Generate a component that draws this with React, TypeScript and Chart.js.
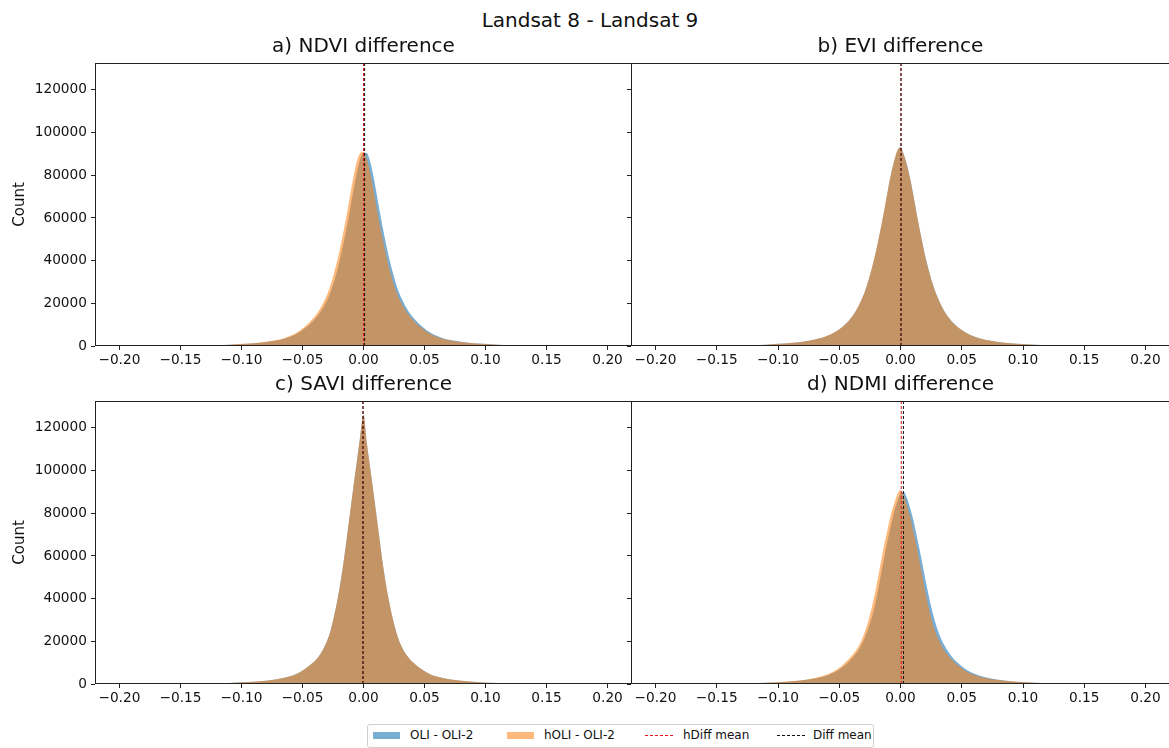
import React, { useEffect, useRef } from "react";
import { Chart, registerables } from "chart.js";

Chart.register(...registerables);

// ---------- data ----------
const BIN_X = [
  -0.22, -0.17, -0.15, -0.13, -0.11, -0.095, -0.085, -0.075, -0.065, -0.055, -0.048, -0.042, -0.037, -0.032, -0.027,
  -0.021, -0.016, -0.013, -0.0105, -0.008, -0.0053, -0.0027, 0, 0.0027, 0.0053, 0.008, 0.0105, 0.013, 0.016, 0.021,
  0.027, 0.032, 0.037, 0.042, 0.048, 0.055, 0.065, 0.075, 0.085, 0.095, 0.11, 0.13, 0.15, 0.17, 0.22,
];

const NDVI_OLI = [
  0, 28, 95, 270, 620, 1080, 1550, 2280, 3450, 5600, 8300, 11300, 14600, 19100, 25200,
  36500, 49300, 57700, 65600, 73800, 81600, 87600, 90600, 90400, 86800, 80000, 72200, 63900, 54800, 41200,
  28500, 21300, 16200, 12500, 9100, 6200, 3650, 2420, 1650, 1120, 640, 290, 100, 32, 0,
];
const NDVI_HOLI = [
  0, 32, 100, 290, 640, 1120, 1650, 2420, 3650, 6200, 9100, 12500, 16200, 21300, 28500,
  41200, 54800, 63900, 72200, 80000, 86800, 90400, 91000, 87600, 81600, 73800, 65600, 57700, 49300, 36500,
  25200, 19100, 14600, 11300, 8300, 5600, 3450, 2280, 1550, 1080, 620, 270, 95, 28, 0,
];

const EVI_OLI = [
  0, 30, 90, 270, 640, 1120, 1640, 2440, 3720, 6000, 8700, 12000, 15900, 21400, 29100,
  41800, 55300, 64300, 72300, 79800, 86300, 91200, 93300, 89800, 84800, 78200, 70700, 62700, 53700, 40200,
  27900, 20600, 15200, 11500, 8300, 5750, 3520, 2340, 1560, 1070, 600, 260, 90, 30, 0,
];
const EVI_HOLI = [
  0, 30, 90, 270, 640, 1120, 1640, 2440, 3720, 6050, 8700, 12000, 15900, 21500, 29200,
  42000, 55500, 64500, 72500, 80000, 86500, 91500, 93000, 89500, 84500, 78000, 70500, 62500, 53500, 40000,
  27800, 20500, 15100, 11400, 8300, 5750, 3520, 2340, 1560, 1070, 600, 260, 90, 30, 0,
];

const SAVI_OLI = [
  0, 20, 75, 220, 500, 880, 1280, 1880, 2880, 4650, 7000, 9700, 12700, 17500, 25000,
  40500, 58500, 71500, 82500, 93500, 105000, 116000, 126200, 113000, 102000, 90500, 79500, 68500, 55500, 38500,
  24000, 16600, 12300, 9400, 6800, 4500, 2820, 1830, 1230, 850, 480, 210, 75, 20, 0,
];
const SAVI_HOLI = [
  0, 20, 75, 220, 500, 880, 1280, 1880, 2880, 4650, 7000, 9700, 12700, 17500, 25000,
  40500, 58500, 71500, 82500, 93500, 105000, 116000, 126000, 113000, 102000, 90500, 79500, 68500, 55500, 38500,
  24000, 16600, 12300, 9400, 6800, 4500, 2820, 1830, 1230, 850, 480, 210, 75, 20, 0,
];

const NDMI_OLI = [
  0, 22, 80, 235, 560, 980, 1420, 2100, 3200, 5200, 7600, 10600, 13800, 18200, 24800,
  36500, 51100, 60100, 67300, 73800, 80500, 85400, 89300, 90000, 87100, 82100, 76700, 70100, 61900, 47000,
  31700, 22700, 17000, 12800, 9300, 6300, 3820, 2440, 1630, 1080, 640, 280, 95, 30, 0,
];
const NDMI_HOLI = [
  0, 25, 85, 250, 600, 1050, 1520, 2260, 3470, 5700, 8400, 11800, 15200, 20300, 28000,
  42000, 57000, 66000, 72500, 78900, 84300, 88700, 90800, 88200, 83600, 78000, 71500, 65000, 56000, 41000,
  27000, 19700, 14800, 11400, 8200, 5500, 3380, 2210, 1480, 1020, 580, 240, 85, 25, 0,
];

const PANEL_TITLES = ["a) NDVI difference", "b) EVI difference", "c) SAVI difference", "d) NDMI difference"];
const OLI_SERIES = [NDVI_OLI, EVI_OLI, SAVI_OLI, NDMI_OLI];
const HOLI_SERIES = [NDVI_HOLI, EVI_HOLI, SAVI_HOLI, NDMI_HOLI];
const HDIFF_MEAN = [0.0, 0.0004, -0.0004, 0.0006];
const DIFF_MEAN = [0.0009, 0.0004, -0.0004, 0.0024];

const X_TICKS = [-0.2, -0.15, -0.1, -0.05, 0, 0.05, 0.1, 0.15, 0.2];
const Y_TICKS = [0, 20000, 40000, 60000, 80000, 100000, 120000];
const X_MIN = -0.22;
const X_MAX = 0.22;
const Y_MAX = 132600;

const SUPTITLE = "Landsat 8 - Landsat 9";
const LEGEND_LABELS = ["OLI - OLI-2", "hOLI - OLI-2", "hDiff mean", "Diff mean"];

// ---------- styles ----------
const FONT = "'DejaVu Sans', 'Liberation Sans', sans-serif";
const BLUE_FILL = "rgba(31,119,180,0.6)";
const ORANGE_FILL = "rgba(255,127,14,0.55)";
const RED = "#e8141b";
const BLACK = "#111";

// layout of each panel canvas (page coordinates)
const PANEL_LAYOUT = [
  { left: 0, top: 35, width: 632, height: 341, yWidth: 95, showY: true },
  { left: 626, top: 35, width: 544, height: 341, yWidth: 5, showY: false },
  { left: 0, top: 373, width: 632, height: 341, yWidth: 95, showY: true },
  { left: 626, top: 373, width: 544, height: 341, yWidth: 5, showY: false },
];

const framePlugin = {
  id: "frame",
  afterDraw(chart: any) {
    const { ctx, chartArea: a } = chart;
    ctx.save();
    ctx.strokeStyle = "#222";
    ctx.lineWidth = 1;
    ctx.strokeRect(a.left + 0.5, a.top + 0.5, a.right - a.left - 1, a.bottom - a.top - 1);
    ctx.restore();
  },
};

function fmtX(v: number) {
  const s = Math.abs(v).toFixed(2);
  return v < -1e-9 ? "\u2212" + s : s;
}

function Panel({ idx }: { idx: number }) {
  const ref = useRef<HTMLCanvasElement | null>(null);
  const lay = PANEL_LAYOUT[idx];
  useEffect(() => {
    if (!ref.current) return;
    const pts = (vals: number[]) => BIN_X.map((x, i) => ({ x, y: vals[i] }));
    const vline = (m: number) => [
      { x: m, y: 0 },
      { x: m, y: Y_MAX },
    ];
    const chart = new Chart(ref.current, {
      type: "line",
      data: {
        datasets: [
          {
            label: LEGEND_LABELS[0],
            data: pts(OLI_SERIES[idx]),
            backgroundColor: BLUE_FILL,
            borderColor: "rgba(0,0,0,0)",
            borderWidth: 0,
            pointRadius: 0,
            fill: "origin",
            cubicInterpolationMode: "monotone",
            order: 4,
          },
          {
            label: LEGEND_LABELS[1],
            data: pts(HOLI_SERIES[idx]),
            backgroundColor: ORANGE_FILL,
            borderColor: "rgba(0,0,0,0)",
            borderWidth: 0,
            pointRadius: 0,
            fill: "origin",
            cubicInterpolationMode: "monotone",
            order: 3,
          },
          {
            label: LEGEND_LABELS[2],
            data: vline(HDIFF_MEAN[idx]),
            borderColor: RED,
            borderWidth: 1,
            borderDash: [3, 2],
            pointRadius: 0,
            fill: false,
            order: 2,
          },
          {
            label: LEGEND_LABELS[3],
            data: vline(DIFF_MEAN[idx]),
            borderColor: BLACK,
            borderWidth: 1,
            borderDash: [3, 2],
            pointRadius: 0,
            fill: false,
            order: 1,
          },
        ],
      } as any,
      options: {
        responsive: false,
        animation: false,
        devicePixelRatio: 1,
        layout: { padding: 0 },
        plugins: {
          legend: { display: false },
          tooltip: { enabled: false },
          title: {
            display: true,
            text: PANEL_TITLES[idx],
            color: "#111",
            font: { family: FONT, size: 20, weight: "normal" },
            padding: { top: 0, bottom: 4 },
            fullSize: false,
          } as any,
        },
        scales: {
          x: {
            type: "linear",
            min: X_MIN,
            max: X_MAX,
            afterBuildTicks: (s: any) => {
              s.ticks = X_TICKS.map((v) => ({ value: v }));
            },
            afterFit: (s: any) => {
              s.height = 30;
            },
            ticks: {
              autoSkip: false,
              maxRotation: 0,
              minRotation: 0,
              padding: 2,
              color: "#111",
              font: { family: FONT, size: 13.7 },
              callback: (v: any) => fmtX(Number(v)),
            },
            grid: { display: true, drawOnChartArea: false, drawTicks: true, tickLength: 4, color: "#222" },
            border: { display: false },
          },
          y: {
            type: "linear",
            min: 0,
            max: Y_MAX,
            afterBuildTicks: (s: any) => {
              s.ticks = Y_TICKS.map((v) => ({ value: v }));
            },
            afterFit: (s: any) => {
              s.width = lay.yWidth;
            },
            ticks: {
              display: lay.showY,
              padding: 4,
              color: "#111",
              font: { family: FONT, size: 13.7 },
              callback: (v: any) => String(v),
            },
            title: {
              display: lay.showY,
              text: "Count",
              color: "#111",
              font: { family: FONT, size: 15 },
              padding: { top: 11, bottom: 0 },
            },
            grid: { display: true, drawOnChartArea: false, drawTicks: true, tickLength: 4, color: "#222" },
            border: { display: false },
          },
        },
      } as any,
      plugins: [framePlugin],
    });
    return () => chart.destroy();
  }, [idx]);
  return (
    <canvas
      ref={ref}
      width={lay.width}
      height={lay.height}
      style={{ position: "absolute", left: lay.left, top: lay.top, width: lay.width, height: lay.height }}
    />
  );
}

function Legend() {
  const text: React.CSSProperties = {
    position: "absolute",
    top: 727,
    fontFamily: FONT,
    fontSize: 12,
    lineHeight: "17px",
    color: "#111",
    whiteSpace: "nowrap",
  };
  return (
    <>
      <div
        style={{
          position: "absolute",
          left: 367,
          top: 724,
          width: 505,
          height: 22,
          border: "1px solid #cfcfcf",
          borderRadius: 3,
          background: "#fff",
        }}
      />
      <div style={{ position: "absolute", left: 373, top: 732, width: 27, height: 7, background: BLUE_FILL }} />
      <div style={{ ...text, left: 410 }}>{LEGEND_LABELS[0]}</div>
      <div style={{ position: "absolute", left: 507, top: 732, width: 27, height: 7, background: ORANGE_FILL }} />
      <div style={{ ...text, left: 544 }}>{LEGEND_LABELS[1]}</div>
      <svg style={{ position: "absolute", left: 645, top: 730 }} width={29} height={11}>
        <line x1={0} y1={5.5} x2={28} y2={5.5} stroke={RED} strokeWidth={1.2} strokeDasharray="3,2" />
      </svg>
      <div style={{ ...text, left: 683 }}>{LEGEND_LABELS[2]}</div>
      <svg style={{ position: "absolute", left: 777, top: 730 }} width={29} height={11}>
        <line x1={0} y1={5.5} x2={28} y2={5.5} stroke={BLACK} strokeWidth={1} strokeDasharray="3,2" />
      </svg>
      <div style={{ ...text, left: 813 }}>{LEGEND_LABELS[3]}</div>
    </>
  );
}

export default function App() {
  return (
    <div
      style={{
        position: "fixed",
        left: 0,
        top: 0,
        width: 1169,
        height: 748,
        overflow: "hidden",
        background: "#fff",
      }}
    >
      <div
        style={{
          position: "absolute",
          left: 390,
          top: 8,
          width: 400,
          textAlign: "center",
          fontFamily: FONT,
          fontSize: 20,
          lineHeight: "24px",
          color: "#111",
        }}
      >
        {SUPTITLE}
      </div>
      {[0, 1, 2, 3].map((i) => (
        <Panel key={i} idx={i} />
      ))}
      <Legend />
    </div>
  );
}
